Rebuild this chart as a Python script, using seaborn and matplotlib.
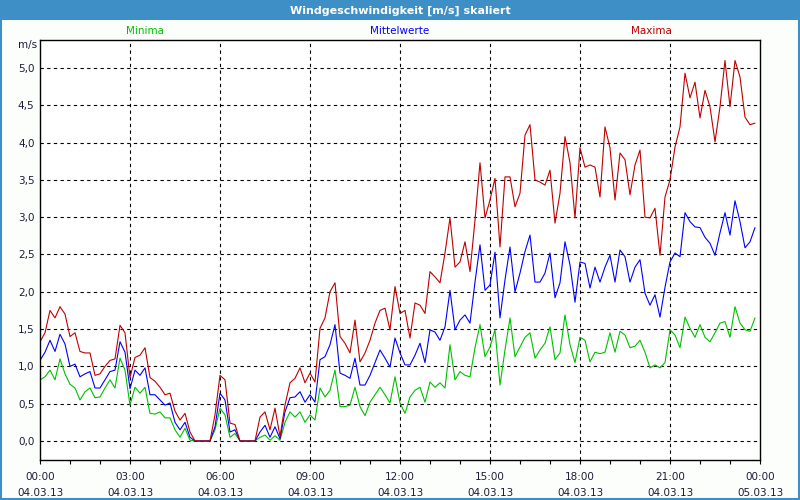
import numpy as np
import pandas as pd
import seaborn as sns
from matplotlib import pyplot as plt
from matplotlib.patches import Rectangle

# 10-minute values, 04.03.13 00:00 .. 23:50
maxima = [1.33, 1.45, 1.75, 1.65, 1.8, 1.7, 1.4, 1.45, 1.2, 1.18, 1.18, 0.88,
          0.9, 1.0, 1.08, 1.1, 1.55, 1.45, 0.85, 1.12, 1.15, 1.25, 0.85, 0.8,
          0.72, 0.62, 0.64, 0.4, 0.28, 0.37, 0.12, 0, 0, 0, 0, 0.35,
          0.88, 0.82, 0.24, 0.22, 0, 0, 0, 0, 0.32, 0.39, 0.15, 0.44,
          0.06, 0.48, 0.78, 0.84, 0.98, 0.78, 0.91, 0.79, 1.51, 1.65, 2.0, 2.12,
          1.4, 1.31, 1.18, 1.62, 1.06, 1.18, 1.35, 1.58, 1.75, 1.78, 1.49, 2.07,
          1.71, 1.75, 1.38, 1.85, 1.82, 1.71, 2.27, 2.2, 2.12, 2.52, 2.99, 2.33,
          2.4, 2.67, 2.27, 2.96, 3.73, 2.99, 3.23, 3.52, 2.6, 3.54, 3.54, 3.14,
          3.32, 4.1, 4.24, 3.5, 3.47, 3.43, 3.63, 2.92, 3.32, 4.08, 3.73, 2.99,
          3.93, 3.67, 3.7, 3.67, 3.27, 4.21, 3.93, 3.23, 3.86, 3.77, 3.3, 3.7,
          3.9, 3.0, 2.99, 3.12, 2.49, 3.27, 3.5, 3.94, 4.21, 4.93, 4.6, 4.81,
          4.33, 4.7, 4.48, 4.01, 4.48, 5.1, 4.48, 5.1, 4.88, 4.34, 4.24, 4.26]

mittel = [1.08, 1.19, 1.35, 1.2, 1.43, 1.3, 1.0, 1.03, 0.86, 0.9, 0.93, 0.71,
          0.71, 0.82, 0.93, 0.95, 1.33, 1.19, 0.7, 0.95, 0.88, 0.98, 0.62, 0.62,
          0.55, 0.48, 0.51, 0.25, 0.15, 0.25, 0.05, 0, 0, 0, 0, 0.19,
          0.64, 0.55, 0.12, 0.15, 0, 0, 0, 0, 0.12, 0.21, 0.05, 0.19,
          0.03, 0.39, 0.58, 0.59, 0.66, 0.52, 0.62, 0.52, 1.09, 1.13, 1.29, 1.56,
          0.91, 0.88, 0.84, 1.11, 0.75, 0.75, 0.88, 1.05, 1.22, 1.11, 0.99, 1.38,
          1.18, 1.02, 1.02, 1.15, 1.31, 1.05, 1.49, 1.46, 1.35, 1.53, 2.02, 1.49,
          1.62, 1.69, 1.58, 2.13, 2.63, 2.02, 2.09, 2.53, 1.65, 2.16, 2.6, 2.0,
          2.25, 2.54, 2.76, 2.13, 2.13, 2.25, 2.52, 1.92, 2.12, 2.67, 2.36, 1.86,
          2.4, 2.38, 2.05, 2.33, 2.13, 2.33, 2.49, 2.13, 2.56, 2.47, 2.13, 2.33,
          2.43, 1.98, 1.82, 1.96, 1.66, 2.06, 2.4, 2.52, 2.47, 3.06, 2.94, 2.87,
          2.86, 2.73, 2.65, 2.49, 2.79, 3.06, 2.76, 3.22, 2.94, 2.59, 2.67, 2.86]

minima = [0.82, 0.86, 0.95, 0.82, 1.1, 0.9, 0.76, 0.71, 0.55, 0.66, 0.71, 0.58,
          0.59, 0.71, 0.82, 0.71, 1.11, 0.95, 0.48, 0.72, 0.64, 0.72, 0.37, 0.36,
          0.39, 0.31, 0.31, 0.15, 0.05, 0.17, 0.01, 0, 0, 0, 0, 0.15,
          0.44, 0.35, 0.05, 0.1, 0, 0, 0, 0, 0.05, 0.08, 0.01, 0.07,
          0.01, 0.25, 0.39, 0.32, 0.39, 0.25, 0.35, 0.28, 0.71, 0.59, 0.68, 0.95,
          0.46, 0.46, 0.48, 0.72, 0.46, 0.34, 0.52, 0.62, 0.72, 0.62, 0.51, 0.86,
          0.51, 0.37, 0.59, 0.68, 0.72, 0.52, 0.79, 0.72, 0.78, 0.71, 1.29, 0.82,
          0.93, 0.88, 0.86, 1.25, 1.56, 1.13, 1.26, 1.49, 0.75, 1.22, 1.65, 1.13,
          1.26, 1.39, 1.45, 1.11, 1.22, 1.31, 1.53, 1.09, 1.18, 1.69, 1.29, 1.05,
          1.39, 1.35, 1.06, 1.19, 1.17, 1.19, 1.45, 1.19, 1.47, 1.42, 1.25, 1.27,
          1.35, 1.19, 0.98, 1.02, 0.98, 1.05, 1.49, 1.42, 1.25, 1.66, 1.51, 1.39,
          1.56, 1.39, 1.33, 1.45, 1.58, 1.6, 1.39, 1.8, 1.58, 1.49, 1.47, 1.65]

series_names = ['Minima', 'Mittelwerte', 'Maxima']
series_colors = ['#00c000', '#0000ff', '#c00000']
tick_hours = [0, 3, 6, 9, 12, 15, 18, 21, 24]
tick_labels = ['00:00\n04.03.13', '03:00\n04.03.13', '06:00\n04.03.13',
               '09:00\n04.03.13', '12:00\n04.03.13', '15:00\n04.03.13',
               '18:00\n04.03.13', '21:00\n04.03.13', '00:00\n05.03.13']
y_ticks = [0, 0.5, 1, 1.5, 2, 2.5, 3, 3.5, 4, 4.5, 5]

hours = np.arange(len(maxima)) / 6.0
df = pd.DataFrame({'t': np.tile(hours, 3),
                   'v': minima + mittel + maxima,
                   'serie': np.repeat(series_names, len(hours))})

sns.set_style('white')
plt.rcParams['font.family'] = ['DejaVu Sans']
txt_col = '#1c1c38'
bar_col = '#3d8fc6'

fig = plt.figure(figsize=(8, 5), dpi=100, facecolor='#fcfefc')
ax = fig.add_axes([0.05, 0.08, 0.90, 0.84])
sns.lineplot(data=df, x='t', y='v', hue='serie', hue_order=series_names,
             palette=series_colors, linewidth=0.8, legend=False, ax=ax)

ax.set_xlim(0, 24)
ax.set_ylim(-0.255, 5.375)
ax.set_facecolor('white')
ax.set_xlabel('')
ax.set_ylabel('')
ax.set_yticks(y_ticks)
ax.set_yticklabels([f'{v:.1f}'.replace('.', ',') for v in y_ticks],
                   fontsize=7.5, color=txt_col)
ax.set_xticks(tick_hours)
ax.set_xticklabels(tick_labels, fontsize=7.5, color=txt_col, linespacing=1.65)
ax.set_xticks(np.arange(0, 25, 1), minor=True)
ax.tick_params(axis='y', length=0, pad=4)
ax.tick_params(axis='x', which='both', direction='out', length=3, width=0.8,
               color='black', pad=6, bottom=True)
for v in y_ticks:
    ax.axhline(v, color='black', lw=0.8, ls=(0, (3, 3)), zorder=0)
for h in tick_hours[1:-1]:
    ax.axvline(h, color='black', lw=0.8, ls=(0, (3, 3)), zorder=0)
for sp in ax.spines.values():
    sp.set_visible(True)
    sp.set_color('black')
    sp.set_linewidth(1.0)

# title bar and frame
fig.patches.append(Rectangle((0, 0.96), 1, 0.04, transform=fig.transFigure,
                             facecolor=bar_col, edgecolor='none', zorder=0))
fig.patches.append(Rectangle((0.001, 0.002), 0.998, 0.997, transform=fig.transFigure,
                             facecolor='none', edgecolor=bar_col, lw=1.5, zorder=0))
fig.text(0.5, 0.979, 'Windgeschwindigkeit [m/s] skaliert', color='white',
         fontsize=8, fontweight='bold', ha='center', va='center')

fig.text(0.181, 0.938, 'Minima', color='#00c000', fontsize=7.5, ha='center', va='center')
fig.text(0.5, 0.938, 'Mittelwerte', color='#0000ff', fontsize=7.5, ha='center', va='center')
fig.text(0.814, 0.938, 'Maxima', color='#c00000', fontsize=7.5, ha='center', va='center')
fig.text(0.046, 0.91, 'm/s', color=txt_col, fontsize=7.5, ha='right', va='center')

fig.savefig('out.png', dpi=100, facecolor=fig.get_facecolor())
